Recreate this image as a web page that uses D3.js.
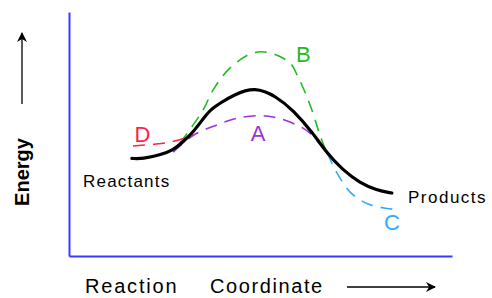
<!DOCTYPE html>
<html>
<head>
<meta charset="utf-8">
<script src="https://cdn.jsdelivr.net/npm/d3@7"></script>
<style>
  body { margin: 0; background: #fff; }
  svg { display: block; }
  .lbl { font-family: "Liberation Sans", Arial, sans-serif; }
</style>
</head>
<body>
<div id="chart"></div>
<script>
var width = 492, height = 298;

// reaction coordinate (x) and energy (y) in arbitrary units, 0..10
var mainX = [1.64, 1.93, 2.38, 2.72, 2.98, 3.25, 3.51, 3.68, 3.94, 4.29, 4.86, 5.42, 5.85, 6.37, 6.73, 7.15, 7.60, 8.03, 8.43];
var mainY = [4.00, 3.98, 4.14, 4.34, 4.68, 5.09, 5.64, 5.98, 6.26, 6.60, 6.94, 6.53, 5.98, 5.04, 4.22, 3.52, 2.99, 2.70, 2.58];

var bX = [2.90, 3.50, 3.76, 4.20, 4.80, 5.25, 5.77, 5.98, 6.16, 6.37, 6.55, 6.73];
var bY = [4.63, 5.98, 6.80, 7.70, 8.32, 8.32, 7.91, 7.34, 6.72, 5.86, 4.96, 4.22];

var aX = [2.72, 3.25, 3.86, 4.39, 4.93, 5.33, 5.95, 6.29, 6.73];
var aY = [4.26, 4.95, 5.37, 5.65, 5.75, 5.70, 5.37, 5.04, 4.22];

var cX = [6.74, 7.00, 7.34, 7.81, 8.30, 8.64];
var cY = [4.22, 3.40, 2.62, 2.13, 1.95, 1.89];

var dX = [1.67, 2.20, 2.64, 3.03, 3.24];
var dY = [4.51, 4.58, 4.67, 4.84, 5.00];

var pathNames = ['A', 'B', 'C', 'D'];
var pathColors = ['#9933dd', '#22bb22', '#33aaff', '#ff2244'];
var letterX = [4.94, 6.12, 8.43, 1.92];
var letterY = [4.95, 8.20, 1.30, 4.90];

var svg = d3.select('#chart').append('svg')
    .attr('width', width)
    .attr('height', height);

var x = d3.scaleLinear().domain([0, 10]).range([69, 452]);
var y = d3.scaleLinear().domain([0, 10]).range([256, 12]);

// axes: plain blue lines, no ticks
svg.append('g')
    .attr('transform', `translate(0,${y(0)})`)
    .call(d3.axisBottom(x).tickValues([]).tickSizeOuter(0));
svg.append('g')
    .attr('transform', `translate(${x(0)},0)`)
    .call(d3.axisLeft(y).tickValues([]).tickSizeOuter(0));
svg.selectAll('.domain')
    .attr('stroke', '#3a3aff')
    .attr('stroke-width', 2);

var line = d3.line()
    .x(d => x(d[0]))
    .y(d => y(d[1]))
    .curve(d3.curveCatmullRom.alpha(0.5));

var smooth = d3.line()
    .x(d => x(d[0]))
    .y(d => y(d[1]))
    .curve(d3.curveBasis);

var series = [
    {x: aX, y: aY},
    {x: bX, y: bY},
    {x: cX, y: cY},
    {x: dX, y: dY}
];

series.forEach((s, i) => {
    svg.append('path')
        .datum(d3.zip(s.x, s.y))
        .attr('d', line)
        .attr('fill', 'none')
        .attr('stroke', pathColors[i])
        .attr('stroke-width', 1.6)
        .attr('stroke-dasharray', '12,8');
});

svg.append('path')
    .datum(d3.zip(mainX, mainY))
    .attr('d', smooth)
    .attr('fill', 'none')
    .attr('stroke', '#000')
    .attr('stroke-width', 3.2)
    .attr('stroke-linecap', 'round');

pathNames.forEach((n, i) => {
    svg.append('text')
        .attr('class', 'lbl')
        .attr('x', x(letterX[i]))
        .attr('y', y(letterY[i]))
        .attr('text-anchor', 'middle')
        .attr('dominant-baseline', 'middle')
        .attr('font-size', 22)
        .attr('fill', pathColors[i])
        .text(n);
});

svg.append('text')
    .attr('class', 'lbl')
    .attr('x', 83).attr('y', 187)
    .attr('font-size', 17)
    .attr('letter-spacing', 1.2)
    .text('Reactants');

svg.append('text')
    .attr('class', 'lbl')
    .attr('x', 408).attr('y', 203)
    .attr('font-size', 17)
    .attr('letter-spacing', 1.5)
    .text('Products');

// x title with arrow
svg.append('text')
    .attr('class', 'lbl')
    .attr('x', 85).attr('y', 293)
    .attr('font-size', 20)
    .attr('letter-spacing', 1.8)
    .text('Reaction');
svg.append('text')
    .attr('class', 'lbl')
    .attr('x', 210).attr('y', 293)
    .attr('font-size', 20)
    .attr('letter-spacing', 1.6)
    .text('Coordinate');

svg.append('defs').append('marker')
    .attr('id', 'arr')
    .attr('viewBox', '0 0 10 10')
    .attr('refX', 9).attr('refY', 5)
    .attr('markerWidth', 10).attr('markerHeight', 10)
    .attr('markerUnits', 'userSpaceOnUse')
    .attr('orient', 'auto')
    .append('path')
    .attr('d', 'M0,0 L10,5 L0,10 L3,5 Z')
    .attr('fill', '#000');

svg.append('line')
    .attr('x1', 347).attr('y1', 287)
    .attr('x2', 435).attr('y2', 287)
    .attr('stroke', '#000').attr('stroke-width', 1.3)
    .attr('marker-end', 'url(#arr)');

// y title with arrow
svg.append('text')
    .attr('class', 'lbl')
    .attr('transform', 'translate(29,172) rotate(-90)')
    .attr('text-anchor', 'middle')
    .attr('font-size', 20)
    .attr('font-weight', 'bold')
    .text('Energy');

svg.append('line')
    .attr('x1', 22).attr('y1', 104)
    .attr('x2', 22).attr('y2', 33)
    .attr('stroke', '#000').attr('stroke-width', 1.3)
    .attr('marker-end', 'url(#arr)');
</script>
</body>
</html>
